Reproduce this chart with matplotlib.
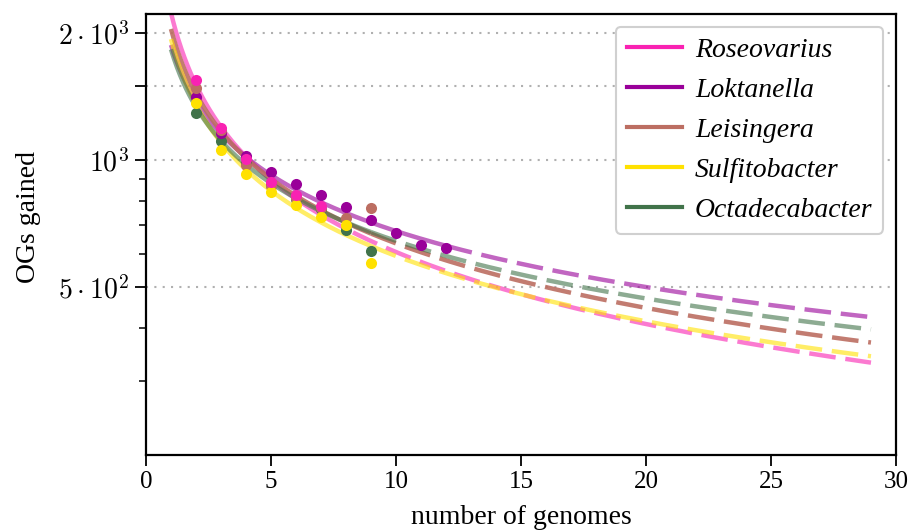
import numpy as np
import matplotlib
matplotlib.use("Agg")
import matplotlib.pyplot as plt

plt.rcParams["font.family"] = ["Liberation Serif", "DejaVu Serif"]
plt.rcParams["mathtext.fontset"] = "cm"

# Genera, colours and observed orthologous groups gained per added genome
genera = ["Roseovarius", "Loktanella", "Leisingera", "Sulfitobacter", "Octadecabacter"]
colors = ["#f922b2", "#990099", "#bc6e62", "#ffe100", "#41734a"]
line_alpha = [0.6, 0.6, 0.9, 0.6, 0.6]

roseovarius = [1548, 1193, 1005, 888, 826, 778]
loktanella = [1413, 1161, 1024, 938, 877, 825, 772, 721, 673, 629, 618]
leisingera = [1484, 1178, 975, 870, 812, 770, 730, 768]
sulfitobacter = [1363, 1054, 928, 841, 782, 734, 701, 570]
octadecabacter = [1295, 1107, 982, 872, 810, 765, 683, 610]
observed = [roseovarius, loktanella, leisingera, sulfitobacter, octadecabacter]

# Power-law fit  OGs = scale * n^(-exponent)  for each genus
fit_scale = [2234, 1874, 2044, 1935, 1829]
fit_exponent = [0.567, 0.441, 0.508, 0.514, 0.4537]

n_max = 29
dot_z = [7, 4, 5, 6, 3]

fig = plt.figure(figsize=(9.1, 5.31), dpi=100)
ax = fig.add_axes([0.1604, 0.1431, 0.8242, 0.8305])

for name, col, al, obs, a, b, z in zip(genera, colors, line_alpha, observed,
                                       fit_scale, fit_exponent, dot_z):
    n_obs = len(obs) + 1
    x_solid = np.linspace(1, n_obs, 200)
    x_dash = np.linspace(n_obs, n_max, 400)
    ax.plot(x_solid, a * x_solid ** (-b), color=col, lw=3.2, alpha=al,
            solid_capstyle="butt", zorder=2)
    ax.plot(x_dash, a * x_dash ** (-b), color=col, lw=3.2, alpha=al,
            ls=(0, (6, 2.2)), zorder=2)
    ax.plot(np.arange(2, n_obs + 1), obs, "o", color=col, ms=8, mec="none", zorder=z)
    ax.plot([], [], color=col, lw=3, label=name)

ax.set_yscale("log")
ax.set_xlim(0, 30)
ax.set_ylim(200, 2218)
ax.set_xticks(range(0, 31, 5))
ax.set_yticks([500, 1000, 1500, 2000])
ax.set_yticklabels([r"$5\cdot10^2$", r"$10^3$", "", r"$2\cdot10^3$"])
ax.set_yticks([300, 400, 600, 700, 800, 900], minor=True)
ax.yaxis.set_minor_formatter(matplotlib.ticker.NullFormatter())
ax.tick_params(axis="both", which="major", direction="out", length=8, width=1.3,
               labelsize=18)
ax.tick_params(axis="y", which="minor", direction="out", length=5, width=1.1)
ax.tick_params(axis="y", which="major", labelsize=20, pad=4)
ax.grid(axis="y", which="major", color="#b0b0b0", ls=(0, (1, 3)), lw=1.5)
for sp in ax.spines.values():
    sp.set_linewidth(1.6)

ax.set_xlabel("number of genomes", fontsize=20, labelpad=9)
ax.set_ylabel("OGs gained", fontsize=20)
ax.yaxis.set_label_coords(-0.14, 0.54)

leg = ax.legend(loc="upper right", prop={"style": "italic", "size": 20},
                handlelength=2.0, handletextpad=0.45, labelspacing=0.52,
                borderpad=0.4, borderaxespad=0.45,
                frameon=True, fancybox=True, edgecolor="#d0d0d0", framealpha=1)
leg.get_frame().set_linewidth(1.5)

fig.savefig("out.png", dpi=100)
